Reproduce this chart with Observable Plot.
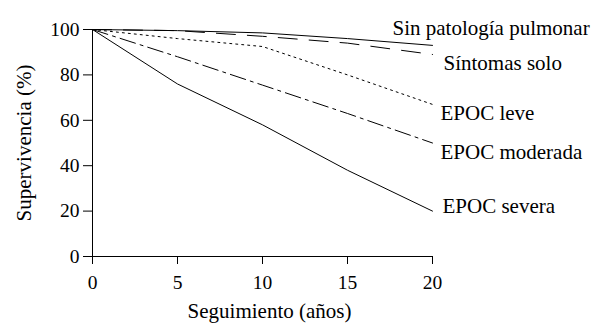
<!DOCTYPE html>
<html>
<head>
<meta charset="utf-8">
<script src="https://cdn.jsdelivr.net/npm/d3@7"></script>
<script src="https://cdn.jsdelivr.net/npm/@observablehq/plot@0.6"></script>
<style>
  html, body { margin: 0; padding: 0; background: #fff; }
  #chart svg { display: block; }
</style>
</head>
<body>
<div id="chart"></div>
<script>
// Follow-up years
const years = [0, 5, 10, 15, 20];
// Series names
const seriesNames = ["Sin patología pulmonar", "Síntomas solo", "EPOC leve", "EPOC moderada", "EPOC severa"];
// Survival (%) per series
const sinPatologia = [100, 99.5, 98.5, 96, 93];
const sintomasSolo = [100, 99.5, 97, 94, 89];
const epocLeve = [100, 96, 92.5, 80, 67];
const epocModerada = [100, 88, 75.5, 63, 50];
const epocSevera = [100, 76, 58, 38, 20];
// Tick labels
const xTicks = [0, 5, 10, 15, 20];
const yTicks = [0, 20, 40, 60, 80, 100];
const xLabel = "Seguimiento (años)";
const yLabel = "Supervivencia (%)";

const values = [sinPatologia, sintomasSolo, epocLeve, epocModerada, epocSevera];
const series = seriesNames.map((name, i) => ({
  name,
  rows: years.map((x, j) => ({x, y: values[i][j], name}))
}));

// styles (kept out of data)
const dashes = [null, "19,12", "2,4", "16,5,3,5", null];
const labelOffsets = [[-40, -17], [11, 9], [8, 9], [8, 9], [10, -4.5]];
const font = "Liberation Serif, Liberation Sans, serif";

const lastPoints = series.map(s => s.rows[s.rows.length - 1]);

const marks = [
  Plot.ruleY([0], {stroke: "black", strokeWidth: 1}),
  Plot.ruleX([0], {stroke: "black", strokeWidth: 1}),
  Plot.axisX({ticks: xTicks, tickSize: 8, tickPadding: 11, fontSize: 19.5, fontFamily: font, label: null, tickFormat: d => String(d)}),
  Plot.axisY({ticks: yTicks, tickSize: 9, tickPadding: 4, fontSize: 19.5, fontFamily: font, label: null, tickFormat: d => String(d)}),
  ...series.map((s, i) => Plot.line(s.rows, {
    x: "x", y: "y", stroke: "black", strokeWidth: 1,
    strokeDasharray: dashes[i] || undefined
  })),
  ...lastPoints.map((p, i) => Plot.text([p], {
    x: "x", y: "y", text: "name", textAnchor: "start", lineAnchor: "middle",
    dx: labelOffsets[i][0], dy: labelOffsets[i][1], fontSize: 21, fontFamily: font, fill: "black"
  })),
  Plot.text([xLabel], {frameAnchor: "bottom", textAnchor: "middle", dx: 7, dy: 55, lineAnchor: "middle", fontSize: 21, fontFamily: font, fill: "black"}),
  Plot.text([yLabel], {frameAnchor: "left", textAnchor: "middle", rotate: -90, dx: -68, lineAnchor: "middle", fontSize: 21, fontFamily: font, fill: "black"})
];

const chart = Plot.plot({
  width: 596,
  height: 325,
  marginLeft: 92,
  marginRight: 164,
  marginTop: 29,
  marginBottom: 69,
  x: {domain: [0, 20]},
  y: {domain: [0, 100]},
  style: {fontFamily: font, color: "black", background: "white", overflow: "visible"},
  marks
});
document.getElementById("chart").appendChild(chart);
</script>
</body>
</html>
